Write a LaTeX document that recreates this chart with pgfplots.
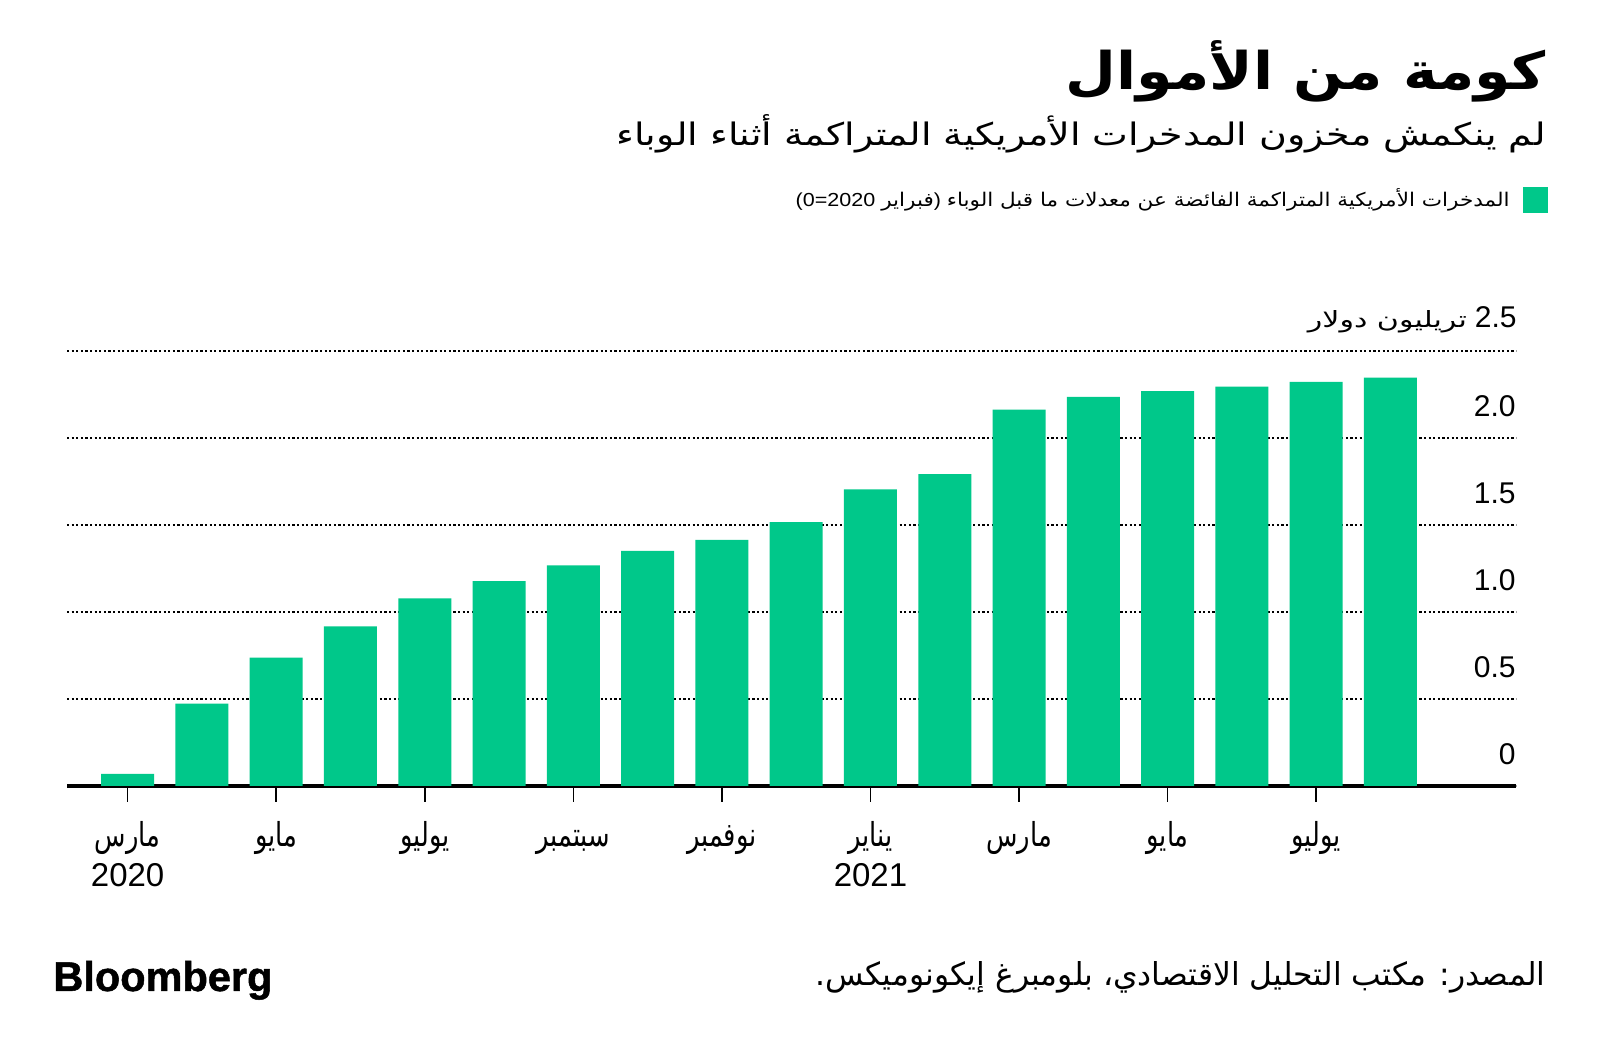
\documentclass[border=0pt]{standalone}
\usepackage{fontspec}
\usepackage{graphicx}
\usepackage{pgfplots}
\pgfplotsset{compat=1.18}
\TeXXeTstate=1
\setmainfont{Liberation Sans}
\newfontfamily\latinfont{Liberation Sans}
\newfontfamily\logofont[FakeBold=1.2]{Liberation Sans Bold}
\newfontfamily\arabicfont[Script=Arabic]{DejaVu Sans}
\newfontfamily\arabicnarrow[Script=Arabic,FakeStretch=0.78]{DejaVu Sans}
\definecolor{bbgreen}{RGB}{0,200,138}
\newcommand\ar[1]{{\arabicfont\beginR #1\endR}}
\newcommand\arn[1]{{\arabicnarrow\beginR #1\endR}}

\begin{document}
\begin{tikzpicture}
\fill[white] (0,0) rectangle (800bp,528bp);
\path[use as bounding box] (0,0) rectangle (800bp,528bp);

% title
\node[anchor=base east, inner sep=0pt] at (773bp,483bp)
  {\resizebox{240bp}{24.5bp}{\arabicfont\bfseries\beginR كومة من الأموال\endR}};
% subtitle
\node[anchor=base east, inner sep=0pt] at (773bp,455bp)
  {\resizebox{464.5bp}{15.5bp}{\ar{لم ينكمش مخزون المدخرات الأمريكية المتراكمة أثناء الوباء}}};
% legend
\fill[bbgreen] (761.5bp,434.5bp) rectangle (774bp,421.5bp);
\node[anchor=base east, inner sep=0pt] at (755bp,424.5bp)
  {\resizebox{357bp}{9bp}{{\latinfont (0=2020}\ {\arabicfont\beginR فبراير\endR}{\latinfont )}\ {\arabicfont\beginR المدخرات الأمريكية المتراكمة الفائضة عن معدلات ما قبل الوباء\endR}}};

\begin{axis}[
  at={(33.5bp,135bp)}, anchor=south west,
  scale only axis, width=724.5bp, height=217.65bp,
  xmin=-0.816, xmax=18.69, ymin=0, ymax=2.5,
  axis x line=bottom, axis y line=right,
  x axis line style={line width=1.6bp, -},
  y axis line style={draw=none},
  ybar, bar width=26.5bp,
  xtick={0,2,...,16},
  xticklabels={{\arn{مارس}\\2020},{\arn{مايو}\\\strut},{\arn{يوليو}\\\strut},{\arn{سبتمبر}\\\strut},{\arn{نوفمبر}\\\strut},{\arn{يناير}\\2021},{\arn{مارس}\\\strut},{\arn{مايو}\\\strut},{\arn{يوليو}\\\strut}},
  xticklabel style={align=center, anchor=base, inner sep=0pt, yshift=-42.5bp,
    font=\fontsize{16.5bp}{20bp}\selectfont},
  ytick={0,0.5,1,1.5,2,2.5},
  yticklabels={0,0.5,1.0,1.5,2.0,{}},
  yticklabel style={anchor=base east, inner sep=0pt, xshift=-8bp, yshift=10.5bp,
    font=\latinfont\fontsize{15bp}{18bp}\selectfont},
  tick align=outside, major tick length=8bp,
  x tick style={black, line width=0.8bp},
  y tick style={draw=none},
  ymajorgrids,
  grid style={black, line width=1.1bp, dash pattern=on 1.1bp off 1.2bp},
  clip=false,
]
\addplot[fill=bbgreen, draw=none] coordinates {
(0,0.069) (1,0.473) (2,0.737) (3,0.917) (4,1.077) (5,1.177) (6,1.267) (7,1.351) (8,1.414)
(9,1.516) (10,1.703) (11,1.791) (12,2.162) (13,2.235) (14,2.268) (15,2.294) (16,2.321) (17,2.346)};
\end{axis}

% y unit label
\node[anchor=base east, inner sep=0pt] at (758.5bp,364bp)
  {\resizebox{79.5bp}{8.5bp}{\ar{تريليون دولار}}\hspace{4bp}{\latinfont\fontsize{15bp}{18bp}\selectfont 2.5}};

% footer
\node[anchor=base east, inner sep=0pt] at (773bp,35.5bp)
  {\resizebox{365bp}{12bp}{\ar{المصدر: مكتب التحليل الاقتصادي، بلومبرغ إيكونوميكس.}}};
\node[anchor=base west, inner sep=0pt] at (26.5bp,32.5bp)
  {\resizebox{109.5bp}{!}{\logofont Bloomberg}};
\end{tikzpicture}
\end{document}
